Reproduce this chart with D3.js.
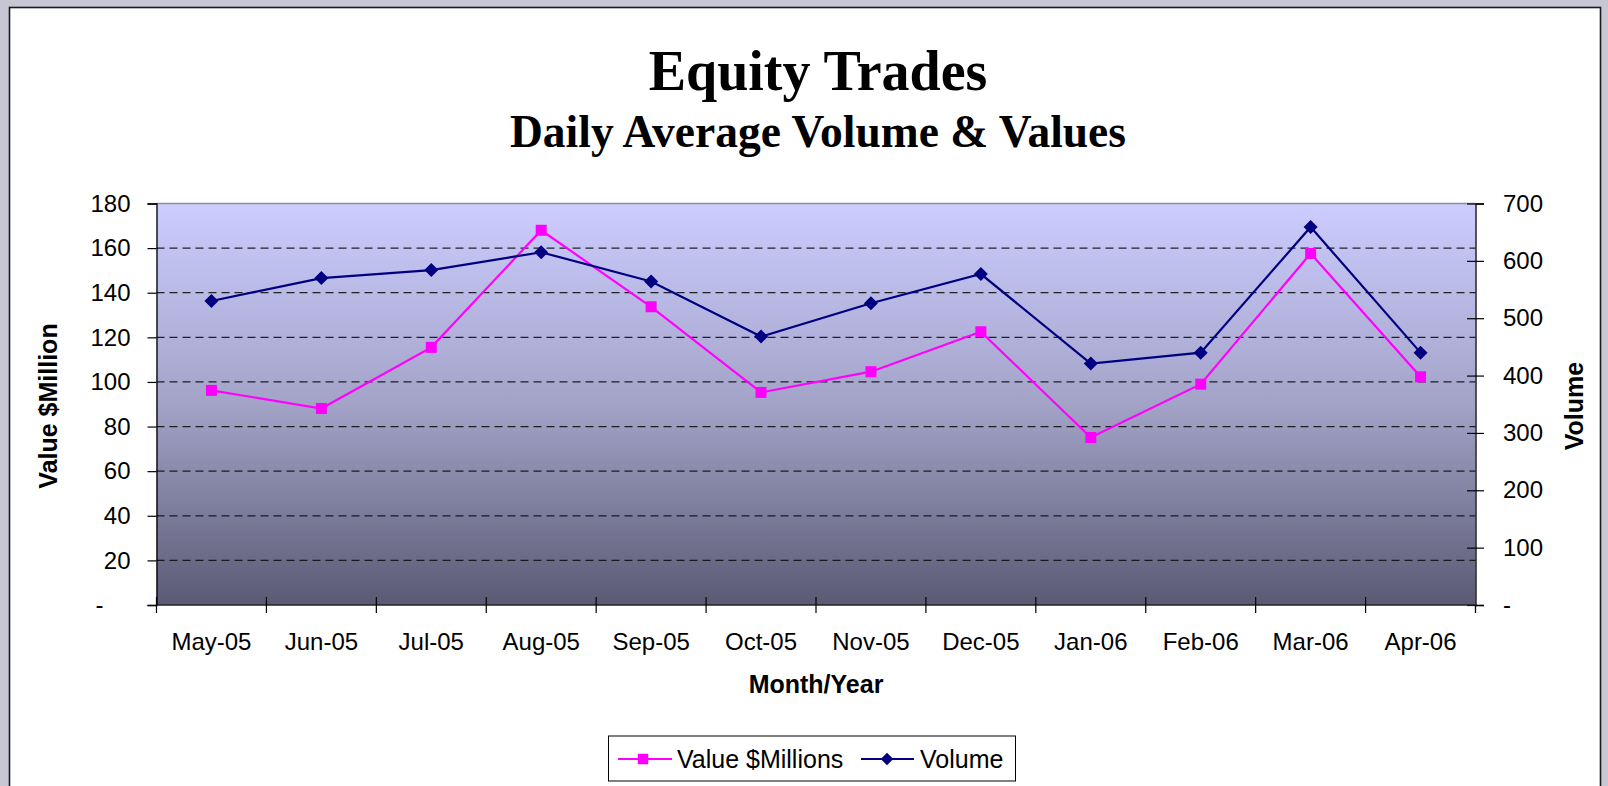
<!DOCTYPE html>
<html><head><meta charset="utf-8">
<script src="https://cdn.jsdelivr.net/npm/d3@7"></script>
<style>
html,body{margin:0;padding:0;background:#c6c6d4;overflow:hidden}
svg{display:block}
</style>
</head><body>
<svg id="chart" width="1608" height="786"></svg>
<script>
// ---- data ----
const months = ["May-05","Jun-05","Jul-05","Aug-05","Sep-05","Oct-05","Nov-05","Dec-05","Jan-06","Feb-06","Mar-06","Apr-06"];
const valueMillions = [96.2, 88.1, 115.5, 168.0, 133.7, 95.3, 104.6, 122.5, 75.1, 99.0, 157.6, 102.3];
const volume = [530, 570, 584, 615, 564, 468, 526, 577, 421, 440, 659, 440];
const valueTicks = [0, 20, 40, 60, 80, 100, 120, 140, 160, 180];
const volumeTicks = [0, 100, 200, 300, 400, 500, 600, 700];
const seriesNames = ["Value $Millions", "Volume"];

// ---- layout ----
const svg = d3.select("#chart");
const L = 156.5, R = 1475.5, T = 203.5, B = 605;
const sans = "Arial, 'Liberation Sans', sans-serif";
const serif = "'Book Antiqua', Palatino, 'Liberation Serif', serif";

const defs = svg.append("defs");
const bg = defs.append("linearGradient").attr("id","plotbg").attr("x1",0).attr("y1",0).attr("x2",0).attr("y2",1);
bg.append("stop").attr("offset","0%").attr("stop-color","#ccccff");
bg.append("stop").attr("offset","50%").attr("stop-color","#a3a3c8");
bg.append("stop").attr("offset","100%").attr("stop-color","#5a5a74");

svg.append("rect").attr("x",0).attr("y",0).attr("width",1608).attr("height",786).attr("fill","#c6c6d4");
svg.append("rect").attr("x",9.5).attr("y",7.5).attr("width",1591).attr("height",800)
  .attr("fill","#ffffff").attr("stroke","#1a1a1a").attr("stroke-width",1.6);

// scales
const x = d3.scaleBand().domain(months).range([L, R]);
const yL = d3.scaleLinear().domain([0, 180]).range([B, T]);
const yR = d3.scaleLinear().domain([0, 700]).range([B, T]);
const cx = m => x(m) + x.bandwidth() / 2;

// plot area
svg.append("rect").attr("x",L).attr("y",T).attr("width",R-L).attr("height",B-T).attr("fill","url(#plotbg)");
svg.append("line").attr("x1",L).attr("x2",R).attr("y1",T).attr("y2",T).attr("stroke","#8f8f9a").attr("stroke-width",1.5);

// gridlines
svg.append("g").selectAll("line").data(valueTicks.filter(d => d > 0 && d < 180)).join("line")
  .attr("x1", L).attr("x2", R).attr("y1", d => yL(d)).attr("y2", d => yL(d))
  .attr("stroke", "#111").attr("stroke-opacity",0.9).attr("stroke-width",1.3).attr("stroke-dasharray","8,5");

// left axis
const gL = svg.append("g").attr("transform",`translate(${L},0)`)
  .call(d3.axisLeft(yL).tickValues(valueTicks).tickFormat(d => d === 0 ? "-" : d).tickSize(9).tickPadding(17));
gL.select(".domain").attr("stroke","#000").attr("stroke-width",1.3);
gL.selectAll(".tick line").attr("stroke","#000").attr("stroke-width",1.2);
gL.selectAll(".tick text").attr("font-family",sans).attr("font-size",24).attr("fill","#000");
gL.selectAll(".tick").filter(d => d === 0).select("text").attr("dx", -27);

// right axis
const gR = svg.append("g").attr("transform",`translate(${R},0)`)
  .call(d3.axisRight(yR).tickValues(volumeTicks).tickFormat(d => d === 0 ? "-" : d).tickSize(8.5).tickPadding(19));
gR.select(".domain").attr("stroke","#000").attr("stroke-width",1.3);
gR.selectAll(".tick line").attr("x1",-8.5).attr("stroke","#000").attr("stroke-width",1.2);
gR.selectAll(".tick text").attr("font-family",sans).attr("font-size",24).attr("fill","#000");
svg.append("line").attr("x1",R).attr("x2",R).attr("y1",B).attr("y2",B+8).attr("stroke","#000").attr("stroke-width",1.3);

// bottom axis
const gB = svg.append("g").attr("transform",`translate(0,${B})`)
  .call(d3.axisBottom(x).tickSize(0).tickPadding(28));
gB.select(".domain").remove();
gB.selectAll(".tick text").attr("font-family",sans).attr("font-size",24).attr("fill","#000");
svg.append("line").attr("x1",L).attr("x2",R).attr("y1",B).attr("y2",B).attr("stroke","#222").attr("stroke-width",1.5);
svg.append("g").selectAll("line").data(months).join("line")
  .attr("x1", m => x(m)).attr("x2", m => x(m)).attr("y1", B - 8).attr("y2", B + 8)
  .attr("stroke","#000").attr("stroke-width",1.2);

// axis titles
svg.append("text").attr("x", (L+R)/2).attr("y", 693).attr("text-anchor","middle")
  .attr("font-family",sans).attr("font-weight","bold").attr("font-size",25).text("Month/Year");
svg.append("text").attr("transform","translate(57,406) rotate(-90)").attr("text-anchor","middle")
  .attr("font-family",sans).attr("font-weight","bold").attr("font-size",25).text("Value $Million");
svg.append("text").attr("transform","translate(1583,406) rotate(-90)").attr("text-anchor","middle")
  .attr("font-family",sans).attr("font-weight","bold").attr("font-size",25).text("Volume");

// titles
svg.append("text").attr("x",818).attr("y",90).attr("text-anchor","middle")
  .attr("font-family",serif).attr("font-weight","bold").attr("font-size",56).text("Equity Trades");
svg.append("text").attr("x",818).attr("y",147).attr("text-anchor","middle")
  .attr("font-family",serif).attr("font-weight","bold").attr("font-size",45.5).text("Daily Average Volume & Values");

// series lines
const lineV = d3.line().x((d,i) => cx(months[i])).y(d => yL(d));
const lineVol = d3.line().x((d,i) => cx(months[i])).y(d => yR(d));
svg.append("path").datum(valueMillions).attr("d", lineV).attr("fill","none").attr("stroke","#ff00ff").attr("stroke-width",2.2);
svg.append("path").datum(volume).attr("d", lineVol).attr("fill","none").attr("stroke","#000080").attr("stroke-width",2.2);

// markers
const sq = d3.symbol().type(d3.symbolSquare).size(121);
const dia = d3.symbol().type(d3.symbolDiamond2).size(125);
svg.append("g").selectAll("path").data(valueMillions).join("path")
  .attr("transform",(d,i) => `translate(${cx(months[i])},${yL(d)})`).attr("d", sq).attr("fill","#ff00ff");
svg.append("g").selectAll("path").data(volume).join("path")
  .attr("transform",(d,i) => `translate(${cx(months[i])},${yR(d)})`).attr("d", dia).attr("fill","#000080");

// legend
const lg = svg.append("g");
lg.append("rect").attr("x",608.5).attr("y",736).attr("width",407).attr("height",45).attr("fill","#fff").attr("stroke","#000").attr("stroke-width",1);
lg.append("line").attr("x1",618).attr("x2",672).attr("y1",759).attr("y2",759).attr("stroke","#ff00ff").attr("stroke-width",2);
lg.append("path").attr("transform","translate(643,759)").attr("d", d3.symbol().type(d3.symbolSquare).size(110)).attr("fill","#ff00ff");
lg.append("text").attr("x",677).attr("y",768).attr("font-family",sans).attr("font-size",25).text(seriesNames[0]);
lg.append("line").attr("x1",861).attr("x2",914).attr("y1",759).attr("y2",759).attr("stroke","#000080").attr("stroke-width",2);
lg.append("path").attr("transform","translate(887,759)").attr("d", d3.symbol().type(d3.symbolDiamond2).size(100)).attr("fill","#000080");
lg.append("text").attr("x",920).attr("y",768).attr("font-family",sans).attr("font-size",25).text(seriesNames[1]);
</script>
</body></html>
